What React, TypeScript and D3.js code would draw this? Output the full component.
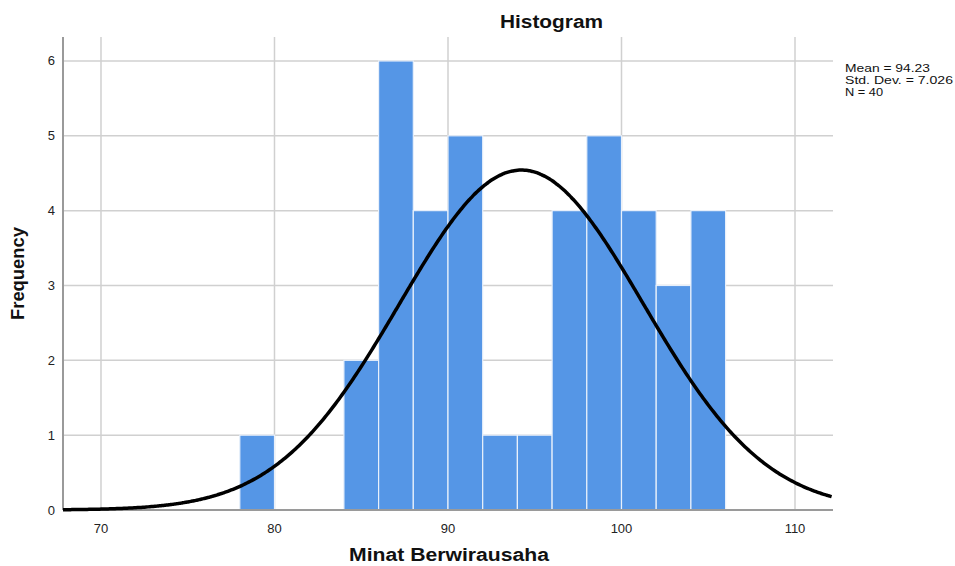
import React, { useEffect, useRef } from 'react';
import * as d3 from 'd3';

// histogram bins (lower edge, width 2) and frequencies
const binStarts = [78, 84, 86, 88, 90, 92, 94, 96, 98, 100, 102, 104];
const frequencies = [1, 2, 6, 4, 5, 1, 1, 4, 5, 4, 3, 4];
const binWidth = 2;
const xTicks = [70, 80, 90, 100, 110];
const yTicks = [0, 1, 2, 3, 4, 5, 6];
const stats = { mean: 94.23, sd: 7.026, n: 40 };
const statLines = ['Mean = 94.23', 'Std. Dev. = 7.026', 'N = 40'];

export default function App() {
  const ref = useRef<SVGSVGElement>(null);
  const width = 955;
  const height = 566;
  const margin = { top: 37, right: 122, bottom: 56, left: 63 };

  useEffect(() => {
    const svg = d3.select(ref.current);
    svg.selectAll('*').remove();

    const x = d3
      .scaleLinear()
      .domain([67.81, 112.19])
      .range([margin.left, width - margin.right]);
    const y = d3
      .scaleLinear()
      .domain([0, 6.32])
      .range([height - margin.bottom, margin.top]);

    const font = '"Liberation Sans", Arial, sans-serif';
    const grid = svg.append('g');

    // gridlines
    grid
      .selectAll('.hg')
      .data(yTicks.filter(d => d > 0))
      .enter()
      .append('line')
      .attr('x1', margin.left)
      .attr('x2', width - margin.right)
      .attr('y1', d => y(d))
      .attr('y2', d => y(d))
      .style('stroke', '#d0d0d0')
      .style('stroke-width', 1.5);

    grid
      .selectAll('.vg')
      .data(xTicks)
      .enter()
      .append('line')
      .attr('x1', d => x(d))
      .attr('x2', d => x(d))
      .attr('y1', margin.top)
      .attr('y2', height - margin.bottom)
      .style('stroke', '#d0d0d0')
      .style('stroke-width', 1.5);

    // bars
    svg
      .append('g')
      .selectAll('rect')
      .data(binStarts.map((s, i) => ({ s, f: frequencies[i] })))
      .enter()
      .append('rect')
      .attr('x', d => x(d.s))
      .attr('width', d => x(d.s + binWidth) - x(d.s))
      .attr('y', d => y(d.f))
      .attr('height', d => y(0) - y(d.f))
      .style('fill', '#5596e6')
      .style('stroke', '#e8f0fb')
      .style('stroke-width', 1.2);

    // axes lines
    svg
      .append('line')
      .attr('x1', margin.left)
      .attr('x2', margin.left)
      .attr('y1', margin.top)
      .attr('y2', height - margin.bottom)
      .style('stroke', '#9a9a9a')
      .style('stroke-width', 2);
    svg
      .append('line')
      .attr('x1', margin.left)
      .attr('x2', width - margin.right)
      .attr('y1', height - margin.bottom)
      .attr('y2', height - margin.bottom)
      .style('stroke', '#9a9a9a')
      .style('stroke-width', 2);

    // normal curve
    const scale = stats.n * binWidth;
    const pts = d3.range(x.domain()[0], x.domain()[1] + 0.01, 0.1).map(v => {
      const z = (v - stats.mean) / stats.sd;
      return [v, (scale / (stats.sd * Math.sqrt(2 * Math.PI))) * Math.exp(-0.5 * z * z)];
    });
    const line = d3
      .line<number[]>()
      .x(d => x(d[0]))
      .y(d => y(d[1]))
      .curve(d3.curveBasis);
    svg
      .append('path')
      .attr('d', line(pts))
      .style('fill', 'none')
      .style('stroke', '#000')
      .style('stroke-width', 3.5);

    // tick labels
    svg
      .selectAll('.xt')
      .data(xTicks)
      .enter()
      .append('text')
      .attr('x', d => x(d))
      .attr('y', height - margin.bottom + 18)
      .attr('dy', '0.35em')
      .attr('text-anchor', 'middle')
      .style('font-family', font)
      .style('font-size', '13px')
      .style('fill', '#222')
      .text(d => d);

    svg
      .selectAll('.yt')
      .data(yTicks)
      .enter()
      .append('text')
      .attr('x', margin.left - 8)
      .attr('y', d => y(d))
      .attr('dy', '0.35em')
      .attr('text-anchor', 'end')
      .style('font-family', font)
      .style('font-size', '13px')
      .style('fill', '#222')
      .text(d => d);

    // titles (stretched a bit wider, as in the source)
    svg
      .append('text')
      .attr('x', 500)
      .attr('y', 28)
      .attr('textLength', 103)
      .attr('lengthAdjust', 'spacingAndGlyphs')
      .style('font-family', font)
      .style('font-size', '18px')
      .style('font-weight', 'bold')
      .style('fill', '#111')
      .text('Histogram');

    svg
      .append('text')
      .attr('x', 349)
      .attr('y', 561)
      .attr('textLength', 200)
      .attr('lengthAdjust', 'spacingAndGlyphs')
      .style('font-family', font)
      .style('font-size', '18px')
      .style('font-weight', 'bold')
      .style('fill', '#111')
      .text('Minat Berwirausaha');

    svg
      .append('text')
      .attr('transform', 'translate(24, 320) rotate(-90)')
      .attr('textLength', 93)
      .attr('lengthAdjust', 'spacingAndGlyphs')
      .style('font-family', font)
      .style('font-size', '18px')
      .style('font-weight', 'bold')
      .style('fill', '#111')
      .text('Frequency');

    // stats box
    const statWidths = [85, 108, 38];
    svg
      .append('g')
      .selectAll('text')
      .data(statLines)
      .enter()
      .append('text')
      .attr('x', 845)
      .attr('y', (_, i) => 72 + i * 12)
      .attr('textLength', (_, i) => statWidths[i])
      .attr('lengthAdjust', 'spacingAndGlyphs')
      .style('font-family', font)
      .style('font-size', '10.5px')
      .style('fill', '#111')
      .text(d => d);
  }, []);

  return (
    <svg
      ref={ref}
      width={width}
      height={height}
      style={{ position: 'absolute', left: 0, top: 0, background: '#fff' }}
    />
  );
}
